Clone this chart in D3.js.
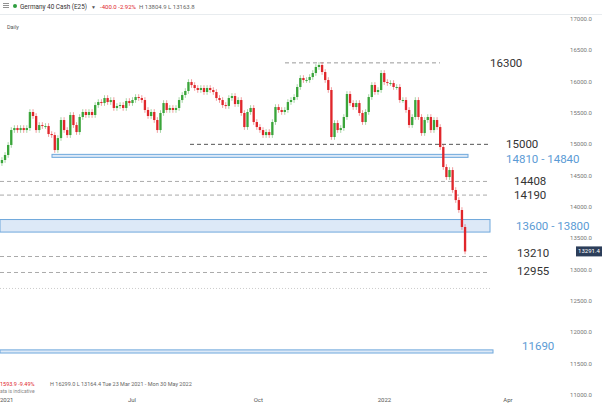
<!DOCTYPE html>
<html><head><meta charset="utf-8">
<script src="https://cdn.jsdelivr.net/npm/d3@7"></script>
<style>body{margin:0;background:#fff}svg{font-family:Roboto,"Noto Sans",sans-serif}</style>
</head><body><svg id="c" width="602" height="404"></svg>
<script>
const closes=[14750,14830,14990,15228,15260,15228,15260,15228,15260,15516,15452,15228,15308,15292,15292,15164,15148,14909,15100,15388,15228,15148,15468,15308,15196,15436,15516,15468,15516,15468,15627,15675,15659,15739,15675,15707,15580,15612,15627,15580,15691,15659,15707,15755,15739,15707,15548,15452,15516,15388,15228,15500,15659,15548,15580,15548,15580,15707,15787,15851,15994,15946,15899,15867,15899,15835,15899,15867,15835,15739,15707,15627,15612,15739,15771,15643,15707,15500,15276,15516,15580,15356,15276,15228,15148,15196,15148,15356,15595,15548,15516,15548,15675,15707,15755,15915,16058,16026,16026,16074,16138,16234,16266,16154,16026,15867,15117,15340,15228,15260,15436,15803,15659,15595,15659,15500,15356,15516,15755,15947,15835,15867,16138,15994,15978,15978,15915,15915,15707,15707,15548,15308,15436,15707,15436,15180,15388,15436,15228,15388,15276,14957,14638,14478,14590,14271,14111,13952,13681,13291];
const firstOpen=14700;
const yTicks=[17000,16500,16000,15500,15000,14500,14000,13500,13000,12500,12000,11500,11000];
const dashedLevels=[{v:16300,x0:285,x1:440,c:"#999"},{v:15000,x0:190,x1:490,c:"#555"},{v:14408,x0:0,x1:490,c:"#aaa"},{v:14190,x0:0,x1:490,c:"#aaa"},{v:13210,x0:0,x1:490,c:"#aaa"},{v:12955,x0:0,x1:490,c:"#aaa"}];
const zones=[{lo:14810,hi:14840,x0:52,x1:468},{lo:13600,hi:13800,x0:0,x1:490},{lo:11670,hi:11720,x0:0,x1:493}];
const levelLabels=[{t:"16300",v:16300,x:490,c:"#333"},{t:"15000",v:15000,x:506,c:"#333"},{t:"14810 - 14840",v:14760,x:506,c:"#5b9bd5"},{t:"14408",v:14408,x:514,c:"#333"},{t:"14190",v:14190,x:514,c:"#333"},{t:"13600 - 13800",v:13700,x:516,c:"#5b9bd5"},{t:"13210",v:13260,x:517,c:"#333"},{t:"12955",v:12980,x:517,c:"#333"},{t:"11690",v:11780,x:522,c:"#5b9bd5"}];
const monthTicks=[{d:new Date(2021,6,1),t:"Jul"},{d:new Date(2021,9,1),t:"Oct"},{d:new Date(2022,0,1),t:"2022"},{d:new Date(2022,3,1),t:"Apr"}];
const lastPrice=13291.4;

const svg=d3.select("#c");
const y=d3.scaleLinear().domain([11000,17000]).range([395,19]);
const x=d3.scaleBand().domain(d3.range(closes.length)).range([0,467]).padding(0.25);
const xt=d3.scaleTime().domain([new Date(2021,6,1),new Date(2022,3,1)]).range([132,508]);

svg.append("rect").attr("x",0).attr("y",14).attr("width",602).attr("height",1).attr("fill","#e8ecef");
[4,6,8].forEach(v=>svg.append("rect").attr("x",3).attr("y",v-1).attr("width",6).attr("height",0.8).attr("fill","#777"));
svg.append("circle").attr("cx",15).attr("cy",6).attr("r",2).attr("fill","#2e9e3e");
svg.append("text").attr("x",20).attr("y",9).attr("font-size",6.8).attr("textLength",67).attr("lengthAdjust","spacingAndGlyphs").attr("fill","#333").text("Germany 40 Cash (E25)");
svg.append("text").attr("x",91).attr("y",8.5).attr("font-size",5).attr("fill","#555").text("▼");
svg.append("text").attr("x",100).attr("y",9).attr("font-size",6).attr("fill","#e0262b").text("-400.0  -2.92%");
svg.append("text").attr("x",139).attr("y",9).attr("font-size",6).attr("fill","#666").text("H 13804.9  L 13163.8");
svg.append("text").attr("x",7).attr("y",29).attr("font-size",5.5).attr("fill","#555").text("Daily");

zones.forEach(z=>svg.append("rect").attr("x",z.x0).attr("y",y(z.hi)).attr("width",z.x1-z.x0).attr("height",Math.max(3,y(z.lo)-y(z.hi))).attr("fill","#dde9f7").attr("stroke","#6fa8dc").attr("stroke-width",1));
dashedLevels.forEach(l=>svg.append("line").attr("x1",l.x0).attr("x2",l.x1).attr("y1",y(l.v)).attr("y2",y(l.v)).attr("stroke",l.c).attr("stroke-width",1).attr("stroke-dasharray","4,3"));
svg.append("line").attr("x1",0).attr("x2",490).attr("y1",y(12700)).attr("y2",y(12700)).attr("stroke","#ccc").attr("stroke-dasharray","1,2");

const data=closes.map((c,i)=>{const o=i?closes[i-1]:firstOpen;return {i,o,c,h:Math.max(o,c)+45,l:Math.min(o,c)-45};});
const g=svg.append("g");
data.forEach(d=>{const col=d.c>=d.o?"#3aa53a":"#e0262b";const cx=x(d.i)+x.bandwidth()/2;
 g.append("line").attr("x1",cx).attr("x2",cx).attr("y1",y(d.h)).attr("y2",y(d.l)).attr("stroke",col).attr("stroke-opacity",0.45).attr("stroke-width",1);
 g.append("rect").attr("x",x(d.i)).attr("width",x.bandwidth()).attr("y",y(Math.max(d.o,d.c))).attr("height",Math.max(1,Math.abs(y(d.o)-y(d.c)))).attr("fill",col);});

levelLabels.forEach(l=>svg.append("text").attr("x",l.x).attr("y",y(l.v)+4).attr("font-size",11.5).attr("fill",l.c).text(l.t));

yTicks.forEach(v=>svg.append("text").attr("x",581).attr("y",y(v)+2).attr("text-anchor","middle").attr("font-size",6).attr("fill","#777").text(v.toFixed(1)));
svg.append("rect").attr("x",576).attr("y",y(lastPrice)-5).attr("width",26).attr("height",10).attr("fill","#2c3e5a");
svg.append("text").attr("x",589).attr("y",y(lastPrice)+2).attr("text-anchor","middle").attr("font-size",6).attr("fill","#fff").text(lastPrice.toFixed(1));

svg.append("text").attr("x",0).attr("y",386).attr("font-size",5.5).attr("fill","#e0262b").text("1593.9   -9.49%");
svg.append("text").attr("x",50).attr("y",386).attr("font-size",5.5).attr("fill","#666").text("H 16299.0   L 13164.4    Tue 23 Mar 2021 - Mon 30 May 2022");
svg.append("text").attr("x",0).attr("y",393).attr("font-size",5).attr("fill","#888").text("ata is indicative");
svg.append("text").attr("x",0).attr("y",402).attr("font-size",6).attr("fill","#555").text("2021");
monthTicks.forEach(m=>svg.append("text").attr("x",xt(m.d)).attr("y",402).attr("text-anchor","middle").attr("font-size",6).attr("fill","#555").text(m.t));
</script></body></html>
